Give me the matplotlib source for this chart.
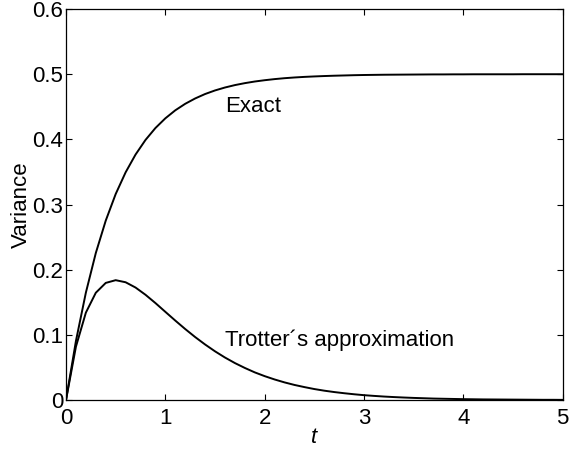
import matplotlib
matplotlib.use("Agg")
import matplotlib.pyplot as plt

# time grid (step 0.1) and the two variance curves
t = [0.0, 0.1, 0.2, 0.3, 0.4, 0.5, 0.6, 0.7, 0.8, 0.9,
     1.0, 1.1, 1.2, 1.3, 1.4, 1.5, 1.6, 1.7, 1.8, 1.9,
     2.0, 2.1, 2.2, 2.3, 2.4, 2.5, 2.6, 2.7, 2.8, 2.9,
     3.0, 3.1, 3.2, 3.3, 3.4, 3.5, 3.6, 3.7, 3.8, 3.9,
     4.0, 4.1, 4.2, 4.3, 4.4, 4.5, 4.6, 4.7, 4.8, 4.9, 5.0]

exact = [0.0, 0.0906, 0.1648, 0.2256, 0.2753, 0.3161, 0.3494, 0.3767, 0.3991, 0.4174,
         0.4323, 0.4446, 0.4546, 0.4628, 0.4696, 0.4751, 0.4796, 0.4833, 0.4863, 0.4888,
         0.4908, 0.4925, 0.4939, 0.4950, 0.4959, 0.4966, 0.4972, 0.4977, 0.4981, 0.4985,
         0.4988, 0.4990, 0.4992, 0.4993, 0.4994, 0.4995, 0.4996, 0.4997, 0.4997, 0.4998,
         0.4998, 0.4999, 0.4999, 0.4999, 0.4999, 0.4999, 0.5, 0.5, 0.5, 0.5, 0.5]

trotter = [0.0, 0.0819, 0.1341, 0.1646, 0.1797, 0.1839, 0.1807, 0.1726, 0.1615, 0.1488,
           0.1353, 0.1219, 0.1089, 0.0966, 0.0852, 0.0747, 0.0652, 0.0567, 0.0492, 0.0424,
           0.0366, 0.0315, 0.0270, 0.0231, 0.0198, 0.0168, 0.0143, 0.0122, 0.0104, 0.0088,
           0.0074, 0.0063, 0.0053, 0.0045, 0.0038, 0.0032, 0.0027, 0.0022, 0.0019, 0.0016,
           0.0013, 0.0011, 0.0009, 0.0008, 0.0007, 0.0006, 0.0005, 0.0004, 0.0003, 0.0003, 0.0002]

xticks = [0, 1, 2, 3, 4, 5]
yticks = [0, 0.1, 0.2, 0.3, 0.4, 0.5, 0.6]
yticklabels = ["0", "0.1", "0.2", "0.3", "0.4", "0.5", "0.6"]

plt.rcParams["font.family"] = ["Liberation Sans", "DejaVu Sans"]
plt.rcParams["font.size"] = 16

fig = plt.figure(figsize=(5.69, 4.53), dpi=100)
ax = fig.add_axes([0.116, 0.117, 0.873, 0.863])

ax.plot(t, exact, color="k", lw=1.4)
ax.plot(t, trotter, color="k", lw=1.4)

ax.text(1.6, 0.45, "Exact", ha="left", va="center")
ax.text(1.6, 0.092, "Trotter\u00b4s approximation", ha="left", va="center")

ax.set_xlim(0, 5); ax.set_ylim(0, 0.6)
ax.set_xticks(xticks)
ax.set_yticks(yticks); ax.set_yticklabels(yticklabels)
ax.tick_params(direction="in", top=True, right=True, length=4, width=0.8)
ax.tick_params(axis="x", pad=6)
ax.tick_params(axis="y", pad=2)
for s in ax.spines.values():
    s.set_linewidth(0.9)
ax.set_xlabel("t", style="italic", labelpad=-2)
ax.set_ylabel("Variance", labelpad=0)

fig.savefig("out.png", dpi=100)
